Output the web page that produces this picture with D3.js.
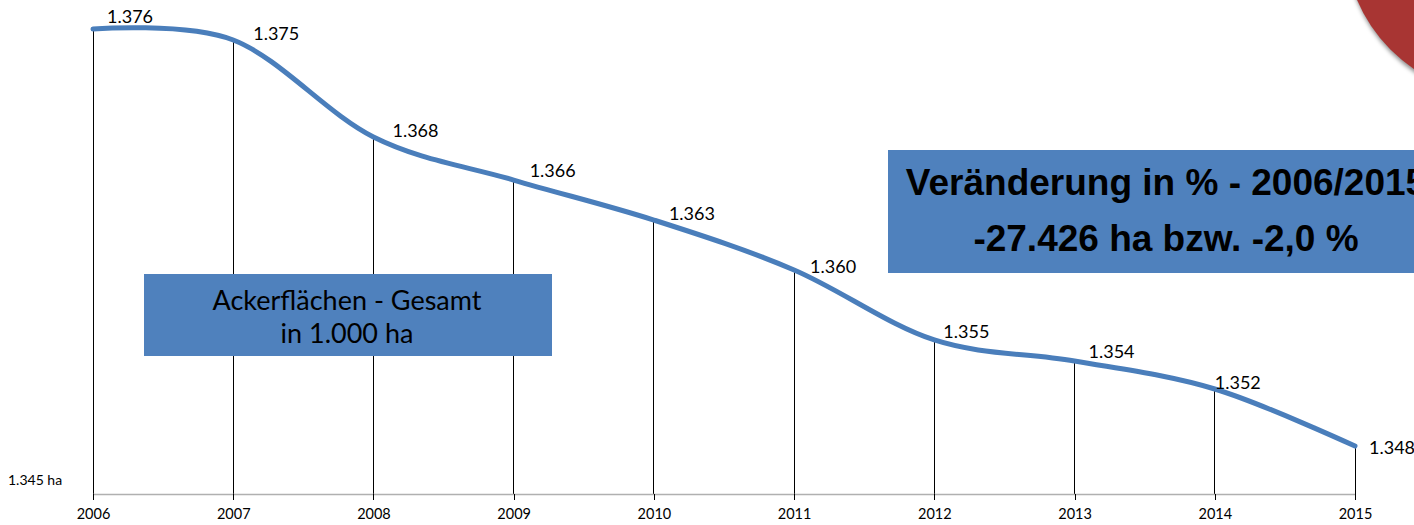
<!DOCTYPE html>
<html>
<head>
<meta charset="utf-8">
<script src="https://cdn.jsdelivr.net/npm/d3@7"></script>
<style>
  html, body { margin: 0; padding: 0; background: #fff; }
  svg { display: block; }
</style>
</head>
<body>
<svg id="chart" width="1414" height="525"></svg>
<script>
// ---- data (thousand ha) ----
const years = ["2006","2007","2008","2009","2010","2011","2012","2013","2014","2015"];
const values = [1375.55, 1374.83, 1368.46, 1365.63, 1363.00, 1359.72, 1355.12, 1353.74, 1351.90, 1348.15];
const axisMin = 1345;
const axisMinLabel = "1.345 ha";
const titleLines = ["Ackerflächen - Gesamt", "in 1.000 ha"];
const changeLines = ["Veränderung in % - 2006/2015", "-27.426 ha bzw. -2,0 %"];
// label nudges (layout only)
const labelNudge = [[14,-13],[20,-7],[19,-7],[16,-10],[15,-7],[16,-4],[9,-9],[14,-10],[0,-7],[14,1]];

const de = d3.formatLocale({decimal: ",", thousands: ".", grouping: [3], currency: ["", " €"]});
const fmt = de.format(",.0f");

const svg = d3.select("#chart");
const FONT = "Lato, 'Open Sans', sans-serif";

const x = d3.scalePoint().domain(years).range([93, 1355]);
const y = d3.scaleLinear().domain([axisMin, 1377.46]).range([494, 0]);

// decorative red shape top-right
const defs = svg.append("defs");
const f = defs.append("filter").attr("id", "sh").attr("x", "-20%").attr("y", "-20%").attr("width", "140%").attr("height", "140%");
f.append("feGaussianBlur").attr("stdDeviation", 2);
svg.append("circle").attr("cx", 1502).attr("cy", -57).attr("r", 156)
  .attr("fill", "rgba(0,0,0,0.45)").attr("filter", "url(#sh)");
svg.append("circle").attr("cx", 1500).attr("cy", -60).attr("r", 155).attr("fill", "#a83533");

// drop lines
svg.append("g").selectAll("line").data(years).join("line")
  .attr("x1", d => x(d)).attr("x2", d => x(d))
  .attr("y1", (d, i) => y(values[i])).attr("y2", y(axisMin))
  .attr("stroke", "#000").attr("stroke-width", 1).attr("shape-rendering", "crispEdges");

// x axis
const xAxis = d3.axisBottom(x).tickSize(6).tickPadding(9);
const gx = svg.append("g").attr("transform", `translate(0,${y(axisMin)})`).call(xAxis);
gx.select(".domain").attr("stroke", "#b0b0b0").attr("d", `M${x(years[0])},0.5H${x(years[years.length-1])}`).attr("stroke-width", 1.5);
gx.selectAll(".tick line").attr("stroke", "#000").attr("shape-rendering", "crispEdges");
gx.selectAll(".tick text").attr("font-family", FONT).attr("font-size", 14.5).attr("fill", "#000");

// y min label
svg.append("text").attr("x", 8).attr("y", 485)
  .attr("font-family", FONT).attr("font-size", 14).attr("fill", "#000")
  .text(axisMinLabel);

// title box
const b1 = {x: 144, y: 274, w: 408, h: 82};
svg.append("rect").attr("x", b1.x).attr("y", b1.y).attr("width", b1.w).attr("height", b1.h).attr("fill", "#4f81bd");
svg.append("g").selectAll("text").data(titleLines).join("text")
  .attr("x", b1.x + b1.w / 2 - 1).attr("y", (d, i) => 310 + i * 33)
  .attr("text-anchor", "middle")
  .attr("font-family", FONT).attr("font-size", 27).attr("fill", "#000")
  .text(d => d);

// line
const line = d3.line().x((d, i) => x(years[i])).y(d => y(d)).curve(d3.curveCardinal.tension(0));
svg.append("path").datum(values).attr("d", line)
  .attr("fill", "none").attr("stroke", "#4a7ebb").attr("stroke-width", 5).attr("stroke-linecap", "round");

// data labels
svg.append("g").selectAll("text").data(values).join("text")
  .attr("x", (d, i) => x(years[i]) + labelNudge[i][0])
  .attr("y", (d, i) => y(d) + labelNudge[i][1])
  .attr("dominant-baseline", "central")
  .attr("font-family", FONT).attr("font-size", 18).attr("fill", "#000")
  .text(d => fmt(d));

// change box
const b2 = {x: 888, y: 150, w: 560, h: 123};
svg.append("rect").attr("x", b2.x).attr("y", b2.y).attr("width", b2.w).attr("height", b2.h).attr("fill", "#4f81bd");
svg.append("g").selectAll("text").data(changeLines).join("text")
  .attr("x", 1166).attr("y", (d, i) => 195 + i * 56)
  .attr("text-anchor", "middle")
  .attr("font-family", "'Liberation Sans', Arial, sans-serif").attr("font-weight", "bold")
  .attr("font-size", 37).attr("fill", "#000")
  .text(d => d);
</script>
</body>
</html>
